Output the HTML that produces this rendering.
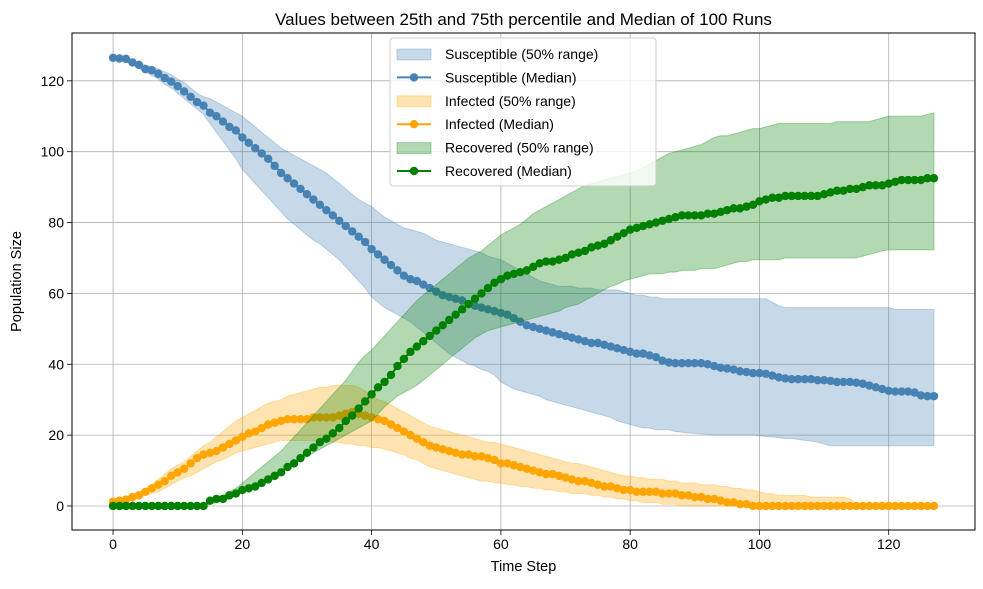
<!DOCTYPE html>
<html><head><meta charset="utf-8"><style>
html,body{margin:0;padding:0;background:#fff;}
svg text{font-family:"Liberation Sans","DejaVu Sans",sans-serif;}
</style></head><body>
<svg id="chart" width="983" height="584" viewBox="0 0 983 584" xmlns="http://www.w3.org/2000/svg">
<rect width="983" height="584" fill="#fff"/>
<g id="grid"></g>
<g id="series"></g>
<rect x="72" y="33" width="903" height="497" fill="none" stroke="#000" stroke-width="1"/>
<g id="ticks"></g>
<text x="523.5" y="25" font-size="17" text-anchor="middle">Values between 25th and 75th percentile and Median of 100 Runs</text>
<text x="523.5" y="571" font-size="14.5" text-anchor="middle">Time Step</text>
<text x="21" y="281.5" font-size="14.5" text-anchor="middle" transform="rotate(-90 21 281.5)">Population Size</text>
<g id="legend"></g>
</svg>
<script>
const xTicks=[0,20,40,60,80,100,120];
const yTicks=[0,20,40,60,80,100,120];
const sMed=[126.5,126.3,126.2,125.2,124.5,123.3,123,122,120.8,119.8,118.5,117,115.5,114,113,111,110,108.5,107,106,104,102.5,101,99.5,98,96,94,92.5,91,89.5,88,86.5,85,83.5,82,80.5,79,77.5,76,74.5,72.5,71,69.5,68,66.5,65,64,63.5,62.5,61.5,60.5,59.5,59,58.5,58,57,56.5,56,55.5,55,54.5,54,53,52,51,50.5,50,49.5,49,48.5,48,47.5,47,46.5,46,46,45.5,45,44.5,44,43.5,43,43,42.5,42,41,40.5,40.3,40.3,40.3,40.3,40.3,40,39.5,39,38.8,38.5,38,37.8,37.5,37.5,37.3,36.8,36.3,36,35.8,35.8,35.8,35.8,35.5,35.5,35.3,35,35,35,34.8,34.5,34,33.5,33,32.5,32.3,32.3,32.3,32,31.2,31,31];
const sHi=[126.5,126.3,126,125.5,125,124.5,124,123.3,122.5,121.8,120.5,119.5,118,116.5,115.5,115,114,113,112,111,110,108.5,107,105.5,104,102.5,101,100,99,98,97,96,95,94,92.5,91,89.5,88,86.5,85.5,84.5,83,81.5,80.5,79.5,78.5,78,77.5,77,76,75,74.5,74,73.5,73,72.5,72,71.5,70.5,70,69.5,68.5,67.5,66.5,65.5,64.5,63.5,63,62.5,62,62,62,61.5,61.5,61.5,61,61,61,61,60.5,60,59.5,59.5,59,59,58.5,58.5,58.5,58.5,58.5,58.5,58.5,58.5,58.5,58.5,58.5,58.5,58.5,58.5,58.5,58.5,58.5,57.5,56.5,56,56,56,56,56,56,56,56,56,56,56,56,56,56,56,56,56,55.5,55.5,55.5,55.5,55.5,55.5,55.5];
const sLo=[126.5,126,125.5,124.5,123.5,122.5,121.5,120.5,119,118,116.5,115,113.5,112,110.5,108,105.5,103,100.5,98,95,93,91,89,87,85,83,81,79.5,78,76.5,75,74,72.5,71,69.5,67.5,65.5,63.5,61.5,59,57.5,56,55,54,53,52,50.5,49,47.5,46,44.5,43,42,41,40,39.5,38.5,38,37,35,34,33,32.5,32,31.5,31,30,29.5,29,28.5,28,27.5,27,26.5,26,25.5,25,24,23.5,23,22.5,22,22,21.5,21.5,21.5,21,20.8,20.6,20.5,20.3,20.2,20,20,20,20,20,20,20,19.8,19.6,19.5,19.3,19,19,18.8,18.5,18.3,18,17.5,17,17,17,17,17,17,17,17,17,17,17,17,17,17,17,17,17];
const iMed=[1.2,1.5,1.8,2.5,3,4,5,6,7,8.5,9.5,10.5,12,13.5,14.5,15,15.5,16.5,17.5,18.5,19.5,20.5,21,22,23,23.5,24,24.5,24.5,24.5,24.5,25,25,25,25,25.5,26,26.5,26,25.5,25,24.5,24,23,22,21,20,19,18,17,16.5,16,15.5,15,14.5,14.5,14,14,13.5,13,12,12,11.5,11,10.5,10,9.5,9,9,8.5,8,7.5,7,7,6.5,6,5.5,5.5,5,4.5,4.5,4,4,4,4,3.5,3.5,3.5,3,3,2.5,2.5,2,2,1.5,1,1,0.5,0.5,0,0,0,0,0,0,0,0,0,0,0,0,0,0,0,0,0,0,0,0,0,0,0,0,0,0,0,0,0];
const iHi=[1.5,2,2.5,3,4,5,6,7.5,9,10.5,11.5,12.5,14,15.5,17,18,19.5,21,22.5,24,25,26,27,28,29,29.5,30,31,31.5,32,32.5,33,33.5,33.5,34,34,34,34,33.5,32.5,31,30,29.5,28.5,27.5,26.5,25.5,24.5,23.5,22.5,22,21.5,21,20.5,20,19.5,19,18.5,18,18,17.5,17,16.5,16,15.5,15,14.5,14,13.5,13,12.5,12,12,11.5,11,10.5,10,9.5,9,8.5,8.5,8,8,7.5,7.5,7.5,7,7,6.5,6.5,6.5,6,6,6,5.5,5.5,5,5,4.5,4.5,4,3.5,3.5,3,3,3,3,3,2.5,2.5,2.5,2.5,2.5,2.5,2,0.5,0,0,0,0,0,0,0,0,0,0,0,0];
const iLo=[1,1.2,1.5,2,2.5,3,3.5,4,5,6,7,8,8.5,9.5,10.5,11.5,12.5,13,14,15,15.5,16,16.5,17,17.5,18,18.5,18.5,18.5,18.5,18.5,18.5,18.5,18.5,18,18,17.5,17.5,17,17,16.5,16.5,16,15.5,15,14.5,13.5,13,12,11,10.5,10,9.5,9,8.5,8,7.5,7,7,6.5,6.5,6,6,5.5,5.5,5,5,4.5,4.5,4,4,3.5,3.5,3.5,3,3,2.5,2.5,2,2,1.5,1.5,1,1,1,0.5,0.5,0.5,0,0,0,0,0,0,0,0,0,0,0,0,0,0,0,0,0,0,0,0,0,0,0,0,0,0,0,0,0,0,0,0,0,0,0,0,0,0,0,0];
const rMed=[0,0,0,0,0,0,0,0,0,0,0,0,0,0,0,1.5,2,2,3,3.5,4.5,5,5.5,6.5,7.5,8.5,9.5,11,12,13.5,15,16.5,18,19,20.5,22,24,25.5,27.5,29.5,31.5,33.5,35,37,39.5,41.5,43.5,45,46.5,48,49.5,51,52.5,54,55.5,57,58.5,60,61.5,63,64,65,65.5,66,66.5,67.5,68.5,69,69,69.5,70,71,71.5,72,73,73.5,74,75,76,77,78,78.5,79,79.5,80,80.5,81,81.5,82,82,82,82,82.5,82.5,83,83.5,84,84,84.5,85,86,86.5,87,87,87.5,87.5,87.5,87.5,87.5,87.5,88,88.5,89,89,89.5,89.5,90,90.5,90.5,90.5,91,91.5,92,92,92,92,92.5,92.5];
const rHi=[0,0,0,0,0,0,0,0,0,0,0,0,0,0,0.5,1,2,3,4,5,6.5,8,9.5,11,12.5,14,15.5,17.5,19.5,21.5,23.5,25.5,27.5,29.5,31.5,33.5,35.5,38,40.5,42.5,44,46,48,50,52,54,56,58,59.5,61,62.5,64,65.5,67,68.5,70,71,72,73.5,75,76.5,77.5,78.5,79.5,81,82.5,83.5,84.5,85.5,86.5,87.5,88.5,89.5,90.5,91,91.5,92,92.5,93,93.5,94,94.5,95.5,96.5,97.5,98.5,99.5,100,100.5,101,101.5,102,103,104,104.5,104.5,105,105.5,106,106.5,106.5,107,107.5,108,108,108,108,108,108,108,108,108,108.5,108.5,108.5,108.5,108.5,108.5,109,109.5,110,110,110,110,110,110,110.5,111];
const rLo=[0,0,0,0,0,0,0,0,0,0,0,0,0,0,0,0.5,1,1.5,2,3,4,5,6,7,8,9,10,11,12,13,14,15,16,17,18,19,20,21,22,23,24,26,28,29.5,31,32,33,34,35.5,37,38.5,40,41.5,43,44.5,46,47.5,48.5,49.5,50,50.5,51,51.5,52,52.5,53,53.5,54,54.5,55,56,56.5,57,58,59,60,61,62,62.5,63.5,64,64.5,65,65.5,65.5,65.5,66,66,66.5,66.5,66.5,67,67,67,67.5,68,68.5,69,69,69.5,69.5,69.5,69.5,69.5,70,70,70,70,70,70,70,70,70,70,70,70,70.5,71,71.5,72,72.3,72.3,72.3,72.3,72.3,72.3,72.3,72.3];

const X0=72,X1=975,Y0=530,Y1=33,XMIN=-6.35,XMAX=133.35,YMIN=-6.78,YMAX=133.5;
function xs(v){return X0+(v-XMIN)/(XMAX-XMIN)*(X1-X0);}
function ys(v){return Y0-(v-YMIN)/(YMAX-YMIN)*(Y0-Y1);}
const NS='http://www.w3.org/2000/svg';
function mk(tag,attrs,parent){const e=document.createElementNS(NS,tag);for(const k in attrs)e.setAttribute(k,attrs[k]);parent.appendChild(e);return e;}
const grid=document.getElementById('grid'),ticks=document.getElementById('ticks'),ser=document.getElementById('series'),leg=document.getElementById('legend');
xTicks.forEach(t=>{const x=xs(t);
 const g=mk('line',{x1:x,x2:x,y1:Y1,y2:Y0,stroke:'#b0b0b0','stroke-width':0.8},grid);
 
 
 const tk=mk('line',{x1:x,x2:x,y1:Y0,y2:Y0+5,stroke:'#000','stroke-width':0.8},ticks);
 
 
 const tl=mk('text',{x:x,y:Y0+19,'font-size':14,'text-anchor':'middle'},ticks);tl.textContent=t;
 
 
});
yTicks.forEach(t=>{const y=ys(t);
 const g=mk('line',{x1:X0,x2:X1,y1:y,y2:y,stroke:'#b0b0b0','stroke-width':0.8},grid);
 
 
 const tk=mk('line',{x1:X0-5,x2:X0,y1:y,y2:y,stroke:'#000','stroke-width':0.8},ticks);
 
 
 const tl=mk('text',{x:X0-8,y:y+5,'font-size':14,'text-anchor':'end'},ticks);tl.textContent=t;
 
 
});
function band(lo,hi,color,name){
 let d='';hi.forEach((v,i)=>{d+=(i?'L':'M')+xs(i).toFixed(2)+','+ys(v).toFixed(2);});
 for(let i=lo.length-1;i>=0;i--)d+='L'+xs(i).toFixed(2)+','+ys(lo[i]).toFixed(2);
 const p=mk('path',{d:d+'Z',fill:color,'fill-opacity':0.3,stroke:color,'stroke-opacity':0.3,'stroke-width':1},ser);
 
 
}
function med(vals,color,name){
 const pts=vals.map((v,i)=>xs(i).toFixed(2)+','+ys(v).toFixed(2)).join(' ');
 const g=mk('g',{},ser);
 
 
 mk('polyline',{points:pts,fill:'none',stroke:color,'stroke-width':2},g);
 vals.forEach((v,i)=>{const c=mk('circle',{cx:xs(i),cy:ys(v),r:4.2,fill:color},g);
  
  });
}
band(sLo,sHi,'#4682b4','susceptible-band');med(sMed,'#4682b4','susceptible-median');
band(iLo,iHi,'#ffa500','infected-band');med(iMed,'#ffa500','infected-median');
band(rLo,rHi,'#008000','recovered-band');med(rMed,'#008000','recovered-median');
// legend
const lb=mk('rect',{x:390,y:38,width:266,height:148,rx:3,fill:'#fff','fill-opacity':0.8,stroke:'#cccccc','stroke-width':1},leg);


const entries=[['Susceptible (50% range)','#4682b4',1],['Susceptible (Median)','#4682b4',0],['Infected (50% range)','#ffa500',1],['Infected (Median)','#ffa500',0],['Recovered (50% range)','#008000',1],['Recovered (Median)','#008000',0]];
entries.forEach((e,k)=>{const y=54+k*23.4;
 const g=mk('g',{},leg);
 
 
 if(e[2]){mk('rect',{x:397,y:y-5,width:34,height:11,fill:e[1],'fill-opacity':0.3,stroke:e[1],'stroke-opacity':0.3},g);}
 else{mk('line',{x1:397,x2:431,y1:y,y2:y,stroke:e[1],'stroke-width':2},g);mk('circle',{cx:414,cy:y,r:4.2,fill:e[1]},g);}
 const t=mk('text',{x:445,y:y+5,'font-size':14},g);t.textContent=e[0];
});
</script>
</body></html>
